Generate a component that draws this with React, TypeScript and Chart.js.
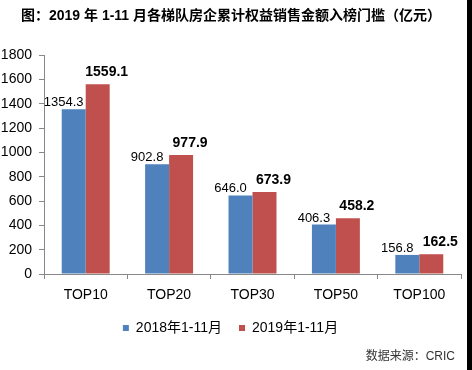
import React, { useEffect, useRef } from "react";
import { Chart, registerables } from "chart.js";

Chart.register(...registerables);

const categories = ["TOP10", "TOP20", "TOP30", "TOP50", "TOP100"];
const series2018 = [1354.3, 902.8, 646.0, 406.3, 156.8];
const series2019 = [1559.1, 977.9, 673.9, 458.2, 162.5];
const seriesNames = ["2018年1-11月", "2019年1-11月"];
const yTicks = [0, 200, 400, 600, 800, 1000, 1200, 1400, 1600, 1800];
const titleText = "图：2019 年 1-11 月各梯队房企累计权益销售金额入榜门槛（亿元）";
const sourceText = "数据来源：CRIC";

const FONT = '"Liberation Sans", "Noto Sans CJK SC", Arial, sans-serif';

export default function App() {
  const ref = useRef<HTMLCanvasElement | null>(null);

  useEffect(() => {
    if (!ref.current) return;
    const labelPlugin = {
      id: "valueLabels",
      afterDatasetsDraw(chart: any) {
        const ctx = chart.ctx;
        ctx.save();
        ctx.textAlign = "center";
        ctx.textBaseline = "alphabetic";
        chart.data.datasets.forEach((ds: any, di: number) => {
          const meta = chart.getDatasetMeta(di);
          meta.data.forEach((el: any, i: number) => {
            const v = ds.data[i] as number;
            if (di === 0) {
              ctx.font = `13px ${FONT}`;
              ctx.fillStyle = "#000";
              ctx.fillText(v.toFixed(1), el.x - 10, el.y - 3);
            } else {
              ctx.font = `bold 14px ${FONT}`;
              ctx.fillStyle = "#000";
              ctx.fillText(v.toFixed(1), el.x + 9, el.y - 8);
            }
          });
        });
        ctx.restore();
      },
      afterDraw(chart: any) {
        const ctx = chart.ctx;
        ctx.save();
        ctx.fillStyle = "#000";
        ctx.font = `bold 14px ${FONT}`;
        ctx.textAlign = "center";
        ctx.textBaseline = "middle";
        ctx.fillText(titleText, 231, 16);
        ctx.font = `12px ${FONT}`;
        ctx.fillStyle = "#333";
        ctx.textAlign = "right";
        ctx.fillText(sourceText, 455, 357);
        ctx.restore();
      },
    };

    const chart = new Chart(ref.current, {
      type: "bar",
      data: {
        labels: categories,
        datasets: [
          {
            label: seriesNames[0],
            data: series2018,
            backgroundColor: "#4F81BD",
            categoryPercentage: 0.575,
            barPercentage: 1,
          },
          {
            label: seriesNames[1],
            data: series2019,
            backgroundColor: "#C0504D",
            categoryPercentage: 0.575,
            barPercentage: 1,
          },
        ],
      },
      options: {
        animation: false,
        responsive: false,
        maintainAspectRatio: false,
        layout: { padding: { top: 55, right: 11, left: 0, bottom: 25 } },
        plugins: {
          title: { display: false },
          tooltip: { enabled: false },
          legend: {
            position: "bottom",
            labels: {
              font: { family: FONT, size: 14 },
              color: "#000",
              boxWidth: 6,
              boxHeight: 6,
              padding: 17,
            },
          },
        },
        scales: {
          x: {
            grid: {
              drawOnChartArea: false,
              drawTicks: true,
              tickLength: 5,
              color: "#888",
              offset: true,
            },
            border: { display: true, color: "#888" },
            ticks: {
              font: { family: FONT, size: 14 },
              color: "#000",
              padding: 8,
            },
            afterFit(scale: any) {
              scale.height = 30;
            },
          },
          y: {
            min: 0,
            max: 1800,
            afterBuildTicks(scale: any) {
              scale.ticks = yTicks.map((v) => ({ value: v }));
            },
            grid: {
              drawOnChartArea: false,
              drawTicks: true,
              tickLength: 5,
              color: "#888",
            },
            border: { display: true, color: "#888" },
            ticks: {
              font: { family: FONT, size: 14 },
              color: "#000",
              padding: 7,
              callback: (v: any) => String(v),
            },
            afterFit(scale: any) {
              scale.width = 44;
            },
          },
        },
      },
      plugins: [labelPlugin],
    });
    return () => chart.destroy();
  }, []);

  return (
    <div style={{ position: "fixed", left: 0, top: 0, width: 472, height: 370, background: "#fff" }}>
      <canvas ref={ref} width={472} height={370} style={{ display: "block" }} />
      <div style={{ position: "absolute", left: 467, top: 0, width: 5, height: 370, background: "#000" }} />
    </div>
  );
}
